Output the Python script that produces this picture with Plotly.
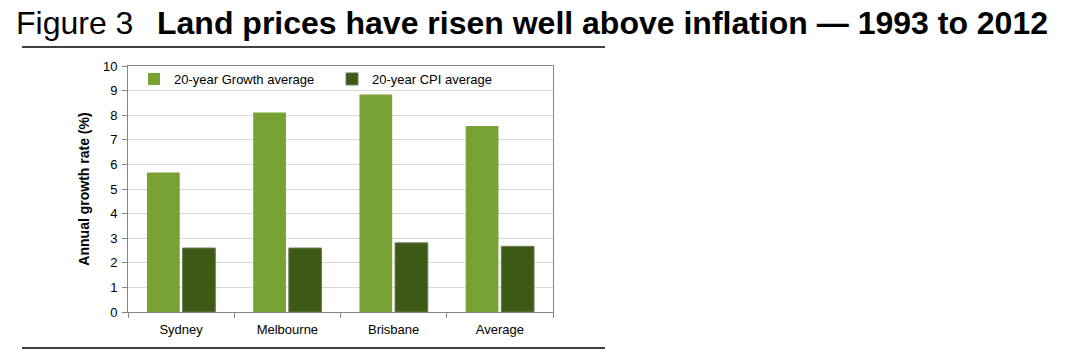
import plotly.graph_objects as go

categories = ["Sydney", "Melbourne", "Brisbane", "Average"]
growth = [5.67, 8.11, 8.84, 7.56]
cpi = [2.6, 2.6, 2.81, 2.67]
series_names = ["20-year Growth average", "20-year CPI average"]
y_ticks = list(range(0, 11))

W, H = 1070, 353
L, R, T, B = 128, 553, 66, 312

def px(x):
    return (x - L) / (R - L)

def py(y):
    return (B - y) / (B - T)

fig = go.Figure()
fig.add_trace(go.Bar(x=categories, y=growth, name=series_names[0],
                     marker=dict(color="#78A234", line=dict(width=0))))
fig.add_trace(go.Bar(x=categories, y=cpi, name=series_names[1],
                     marker=dict(color="#3C5A14", line=dict(color="#6E7A60", width=1))))

fig.update_layout(
    width=W, height=H,
    margin=dict(l=L, r=W - R, t=T, b=H - B),
    paper_bgcolor="white", plot_bgcolor="white",
    font=dict(family="Liberation Sans, Arial, sans-serif", size=13, color="#000"),
    barmode="group", bargap=0.33, bargroupgap=0.08,
    showlegend=True,
    legend=dict(orientation="h", x=px(134), y=py(79), xanchor="left", yanchor="middle",
                bgcolor="rgba(0,0,0,0)", font=dict(size=13),
                entrywidth=153, entrywidthmode="pixels", itemwidth=30),
    xaxis=dict(showline=True, linecolor="#868686", linewidth=1, mirror=True,
               ticks="outside", ticklen=5, tickcolor="#868686", tickson="boundaries",
               tickfont=dict(size=13), showgrid=False, ticklabelstandoff=5),
    yaxis=dict(range=[0, 10], tickvals=y_ticks, showline=True, linecolor="#868686", linewidth=1,
               mirror=True, ticks="outside", ticklen=5, tickcolor="#868686",
               showgrid=True, gridcolor="#D9D9D9", gridwidth=1, zeroline=False,
               tickfont=dict(size=13), ticklabelstandoff=2,
               title=dict(text="<b>Annual growth rate (%)</b>", font=dict(size=14), standoff=10)),
)

fig.add_annotation(text="Figure 3", xref="paper", yref="paper", x=px(14), y=py(23),
                   xanchor="left", yanchor="middle", showarrow=False,
                   font=dict(size=32, color="#000"))
fig.add_annotation(text="<b>Land prices have risen well above inflation — 1993 to 2012</b>",
                   xref="paper", yref="paper", x=px(155), y=py(23),
                   xanchor="left", yanchor="middle", showarrow=False,
                   font=dict(size=32, color="#000"))

for yl in (47, 348):
    fig.add_shape(type="line", xref="paper", yref="paper", x0=px(22), x1=px(605),
                  y0=py(yl), y1=py(yl), line=dict(color="#000", width=1.3))

fig.write_html("out.html")
